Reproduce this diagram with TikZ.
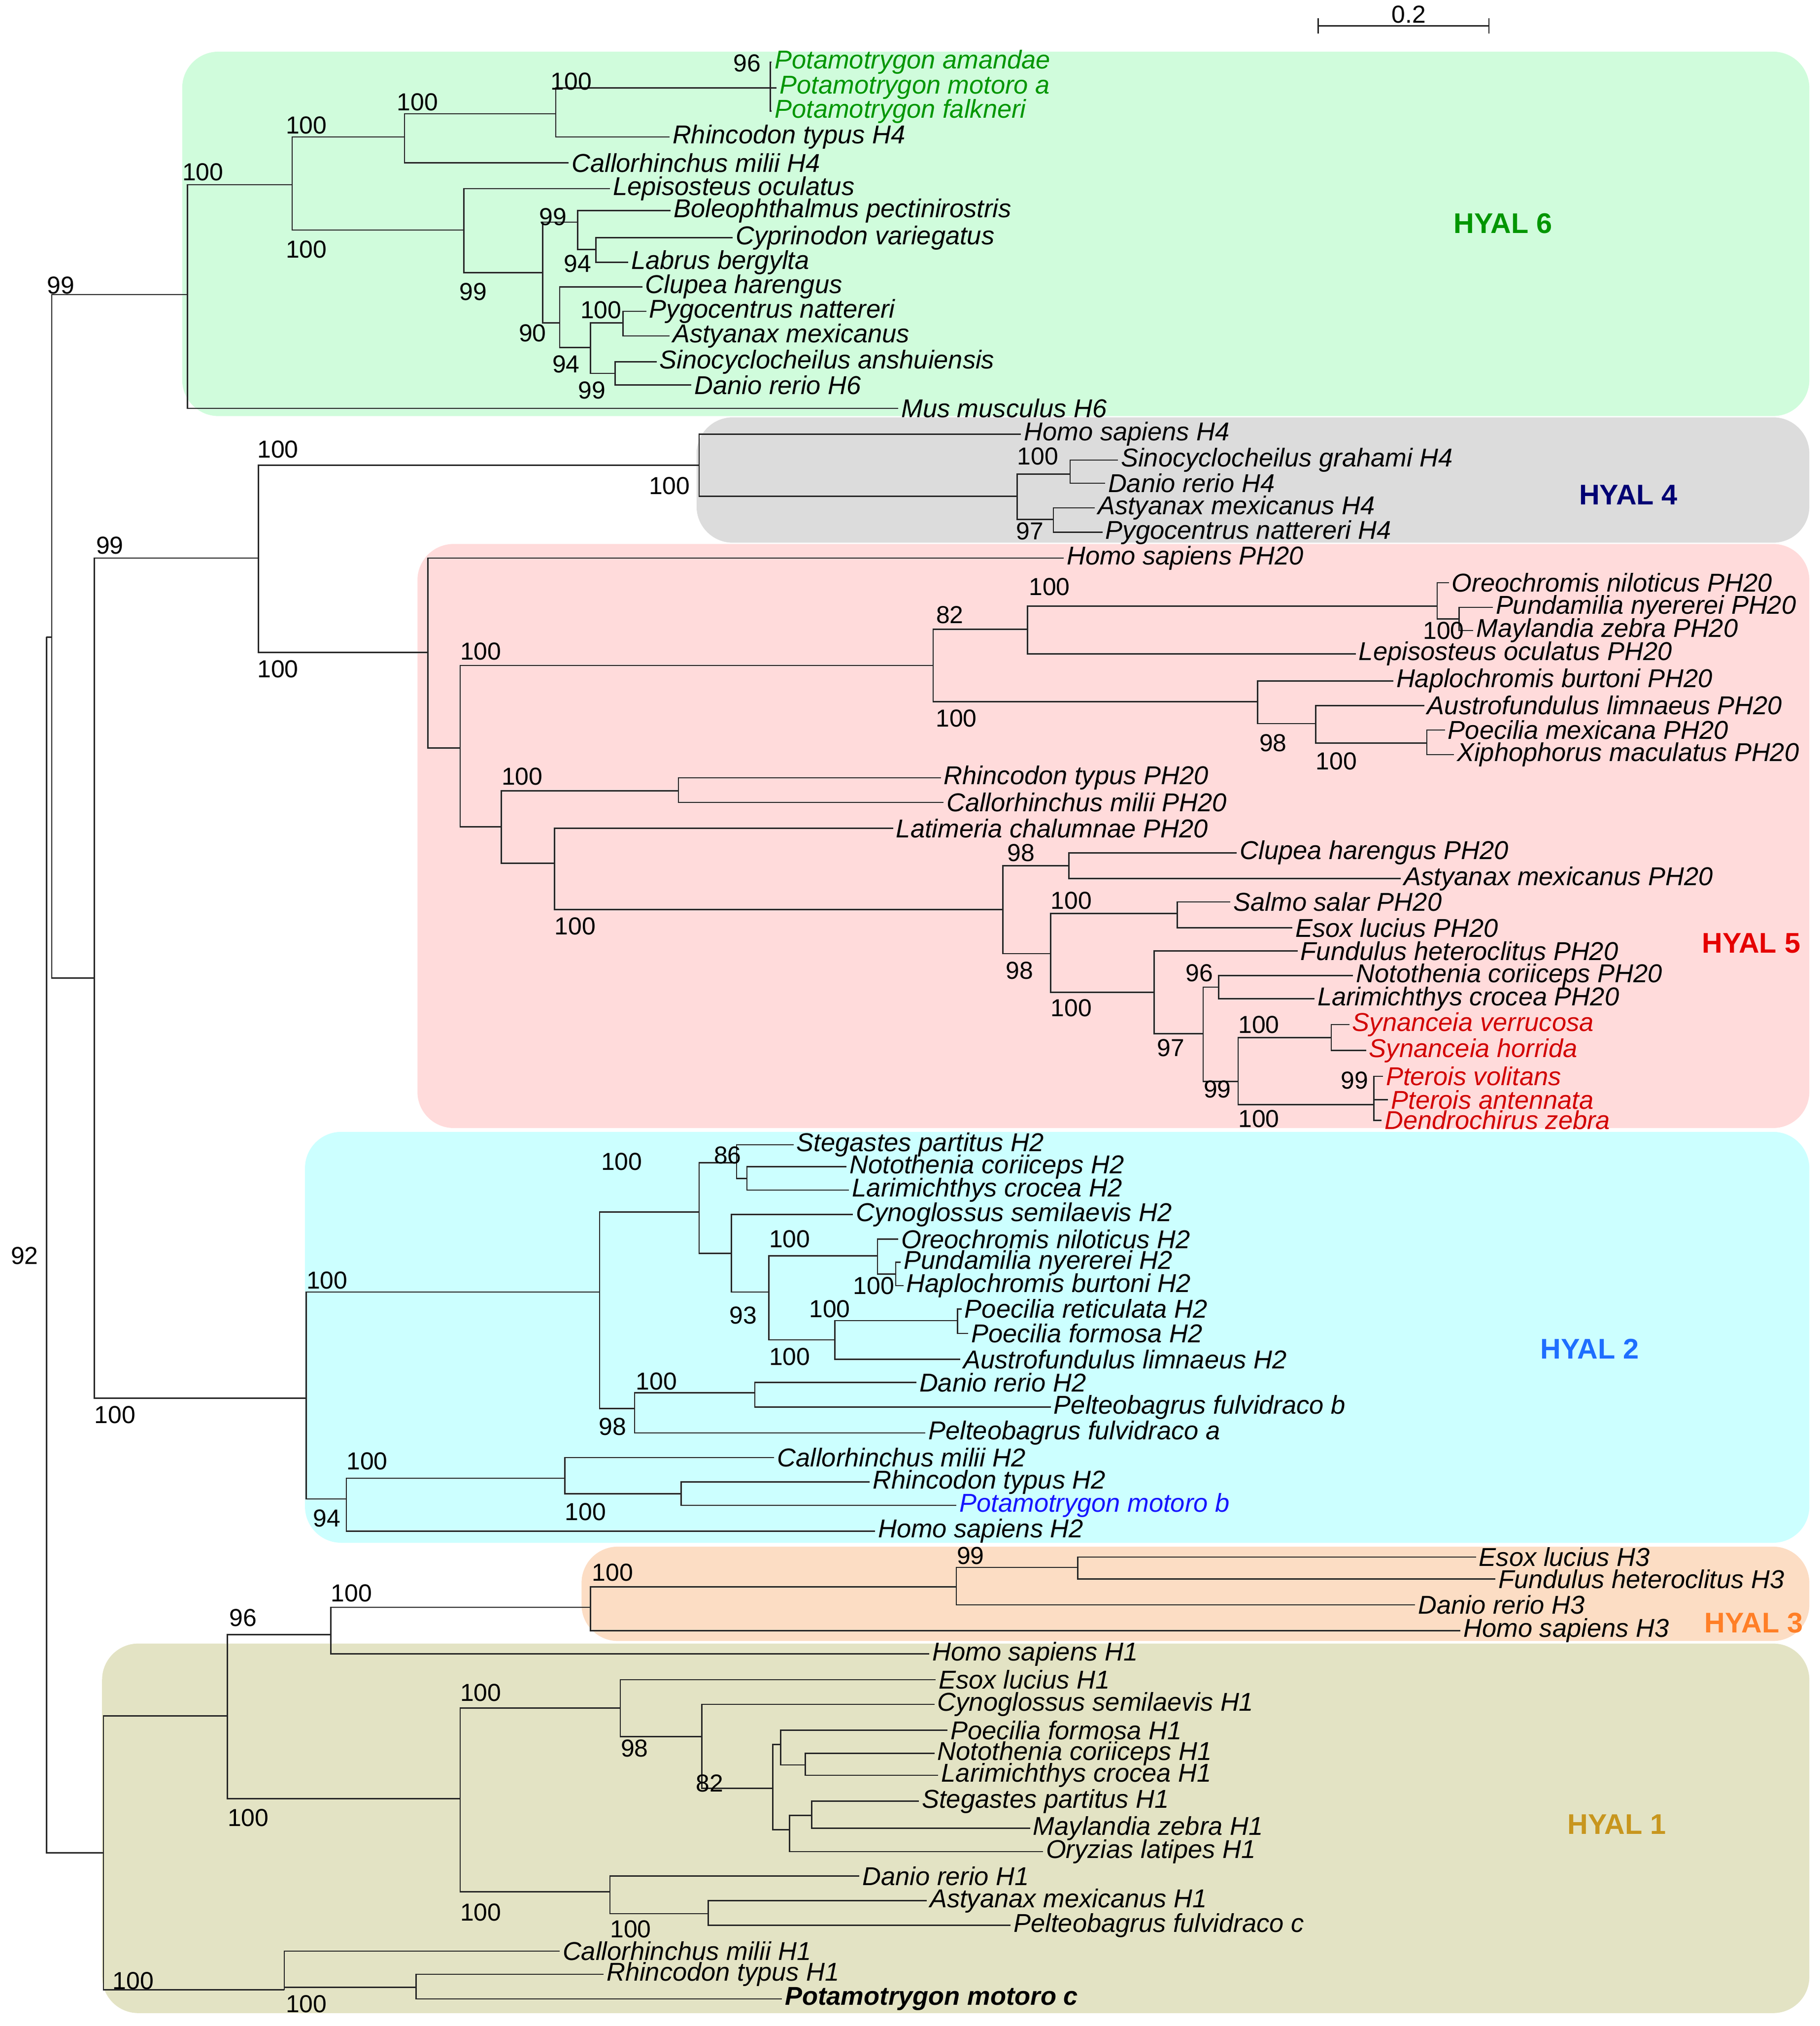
\documentclass[tikz,border=0pt]{standalone}
\usepackage{fontspec}
\setmainfont{Liberation Sans}
\definecolor{g6}{RGB}{208,252,220}
\definecolor{g4}{RGB}{220,220,220}
\definecolor{g5}{RGB}{255,219,219}
\definecolor{g2}{RGB}{204,255,255}
\definecolor{g3}{RGB}{252,221,196}
\definecolor{g1}{RGB}{227,227,196}
\definecolor{tg}{RGB}{0,150,0}
\definecolor{tr}{RGB}{210,0,0}
\definecolor{tb}{RGB}{20,20,255}
\begin{document}
\begin{tikzpicture}[x=0.5pt,y=-0.5pt,
 leaf/.style={anchor=west,inner sep=1pt,font=\fontsize{10}{11}\selectfont\itshape},
 bs/.style={inner sep=0pt,font=\fontsize{9.5}{11}\selectfont},
 clab/.style={font=\fontsize{11}{12}\selectfont\bfseries},
 box/.style={rounded corners=14pt,draw=none},
 br/.style={line width=0.5pt,draw=black!85}]
\newcounter{bsc}
\newcommand\bsl[3]{\stepcounter{bsc}\node[bs] (bs\arabic{bsc}) at (#1,#2) {#3};}
\newcommand\lf[5][black]{\node[leaf,text=#1] (#2) at (#3,#4) {#5};}
\newcommand\cn[3]{\coordinate (#1) at (#2,#3);}
\newcommand\ed[2]{\draw[br] (#1) |- (#2);}
\newcommand\el[2]{\draw[br] (#1) |- (#2.west);}
\useasboundingbox (0,0) rectangle (1408,1568);
% backgrounds
\fill[box,g6] (141,40) rectangle (1400,322);
\fill[box,g4] (539,323) rectangle (1400,420);
\fill[box,g5] (323,421) rectangle (1400,873);
\fill[box,g2] (236,876) rectangle (1400,1194);
\fill[box,g3] (450,1197) rectangle (1400,1270);
\fill[box,g1] (79,1272) rectangle (1400,1558);
\node[clab,text=tg] (l6) at (1163,173) {HYAL 6};
\node[clab,text=blue!45!black] (l4) at (1260,383) {HYAL 4};
\node[clab,text=red!90!black] (l5) at (1355,730) {HYAL 5};
\node[clab,text={rgb,255:red,30;green,110;blue,255}] (l2) at (1230,1044) {HYAL 2};
\node[clab,text={rgb,255:red,255;green,127;blue,39}] (l3) at (1357,1256) {HYAL 3};
\node[clab,text={rgb,255:red,200;green,150;blue,30}] (l1) at (1251,1412) {HYAL 1};
% scale bar
\coordinate (sa) at (1020,20); \coordinate (sb) at (1152,20);
\draw[br] (sa) -- (sb); \draw[br] (1020,14) -- (1020,26); \draw[br] (1152,14) -- (1152,26);
\node[bs] (sl) at (1090,11) {0.2};
% root
\cn{ROOT}{36}{493}\cn{N40}{40}{493}\cn{N73}{73}{757}
\draw[br] (ROOT) |- (N40);
% HYAL6
\cn{N6}{145}{228}\cn{B}{226}{143}\cn{C}{313}{106}\cn{D}{359}{178}\cn{E}{430}{88}\cn{F}{596}{68}
\cn{G}{420}{211}\cn{H}{447}{172}\cn{J}{461}{193}\cn{I}{433}{250}\cn{K}{457}{269}\cn{L}{482}{250}\cn{M}{476}{289}
\draw[br] (N40) -- (40,228) -- (N6); \draw[br] (N40) |- (N73);
\lf{mus}{695}{316}{Mus musculus H6}
\ed{N6}{B}\el{N6}{mus}\ed{B}{C}\ed{B}{D}\ed{C}{E}
\lf{calH4}{440}{126}{Callorhinchus milii H4}\el{C}{calH4}
\lf{rhH4}{518}{106}{Rhincodon typus H4}\ed{E}{F}\el{E}{rhH4}
\lf[tg]{pam}{597}{48}{Potamotrygon amandae}\lf[tg]{pma}{601}{68}{Potamotrygon motoro a}\lf[tg]{pfa}{597}{86}{Potamotrygon falkneri}
\el{F}{pam}\el{F}{pma}\el{F}{pfa}
\lf{lep}{472}{146}{Lepisosteus oculatus}\el{D}{lep}\ed{D}{G}
\ed{G}{H}\ed{G}{I}
\lf{bol}{519}{163}{Boleophthalmus pectinirostris}\el{H}{bol}\ed{H}{J}
\lf{cyp}{567}{184}{Cyprinodon variegatus}\lf{lab}{486}{203}{Labrus bergylta}\el{J}{cyp}\el{J}{lab}
\lf{clu}{497}{222}{Clupea harengus}\el{I}{clu}\ed{I}{K}\ed{K}{L}\ed{K}{M}
\lf{pyg}{500}{241}{Pygocentrus nattereri}\lf{ast}{518}{260}{Astyanax mexicanus}\el{L}{pyg}\el{L}{ast}
\lf{sin}{508}{280}{Sinocyclocheilus anshuiensis}\lf{dan6}{535}{298}{Danio rerio H6}\el{M}{sin}\el{M}{dan6}
\bsl{47}{221}{99}\bsl{157}{133}{100}\bsl{237}{97}{100}\bsl{237}{193}{100}\bsl{323}{79}{100}\bsl{442}{63}{100}\bsl{578}{49}{96}
\bsl{428}{168}{99}\bsl{366}{226}{99}\bsl{447}{204}{94}\bsl{412}{258}{90}\bsl{465}{240}{100}\bsl{438}{282}{94}\bsl{458}{302}{99}
% HYAL4 & 5
\cn{P}{200}{432}\cn{Q}{541}{360}\cn{S}{787}{384}\cn{T}{828}{367}\cn{U}{815}{402}
\ed{N73}{P}\ed{P}{Q}
\lf{hoH4}{790}{336}{Homo sapiens H4}\el{Q}{hoH4}\ed{Q}{S}\ed{S}{T}\ed{S}{U}
\lf{sgH4}{865}{356}{Sinocyclocheilus grahami H4}\lf{drH4}{855}{374}{Danio rerio H4}\el{T}{sgH4}\el{T}{drH4}
\lf{amH4}{847}{393}{Astyanax mexicanus H4}\lf{pnH4}{853}{412}{Pygocentrus nattereri H4}\el{U}{amH4}\el{U}{pnH4}
\bsl{85}{422}{99}\bsl{215}{348}{100}\bsl{215}{518}{100}\bsl{518}{376}{100}\bsl{803}{353}{100}\bsl{797}{411}{97}
\cn{R}{331}{505}\cn{V}{356}{579}\cn{W}{722}{515}\cn{X}{388}{640}\cn{Y}{795}{487}\cn{Z}{973}{543}
\cn{AA}{1112}{469}\cn{AB}{1129}{479}\cn{AC}{1018}{560}\cn{AD}{1104}{575}\cn{AE}{525}{612}\cn{AF}{429}{668}
\cn{AG}{776}{704}\cn{AH}{827}{670}\cn{AI}{813}{738}\cn{AJ}{911}{707}\cn{AK}{893}{768}\cn{AL}{931}{800}
\cn{AM}{943}{764}\cn{AN}{958}{837}\cn{AO}{1030}{803}\cn{AP}{1063}{855}
\ed{P}{R}\lf{hoP}{823}{432}{Homo sapiens PH20}\el{R}{hoP}\ed{R}{V}\ed{V}{W}\ed{V}{X}\ed{W}{Y}\ed{W}{Z}
\ed{Y}{AA}\lf{lepP}{1049}{506}{Lepisosteus oculatus PH20}\el{Y}{lepP}
\lf{oreP}{1121}{451}{Oreochromis niloticus PH20}\el{AA}{oreP}\ed{AA}{AB}
\lf{punP}{1155}{470}{Pundamilia nyererei PH20}\lf{mayP}{1140}{488}{Maylandia zebra PH20}\el{AB}{punP}\el{AB}{mayP}
\lf{hapP}{1078}{527}{Haplochromis burtoni PH20}\el{Z}{hapP}\ed{Z}{AC}
\lf{ausP}{1102}{546}{Austrofundulus limnaeus PH20}\el{AC}{ausP}\ed{AC}{AD}
\lf{pmP}{1118}{565}{Poecilia mexicana PH20}\lf{xiP}{1125}{584}{Xiphophorus maculatus PH20}\el{AD}{pmP}\el{AD}{xiP}
\ed{X}{AE}\ed{X}{AF}
\lf{rhP}{728}{602}{Rhincodon typus PH20}\lf{caP}{730}{621}{Callorhinchus milii PH20}\el{AE}{rhP}\el{AE}{caP}
\lf{laP}{691}{641}{Latimeria chalumnae PH20}\el{AF}{laP}\ed{AF}{AG}\ed{AG}{AH}\ed{AG}{AI}
\lf{clP}{957}{660}{Clupea harengus PH20}\lf{asP}{1084}{680}{Astyanax mexicanus PH20}\el{AH}{clP}\el{AH}{asP}
\ed{AI}{AJ}\ed{AI}{AK}
\lf{saP}{952}{698}{Salmo salar PH20}\lf{esP}{1000}{718}{Esox lucius PH20}\el{AJ}{saP}\el{AJ}{esP}
\lf{fuP}{1004}{736}{Fundulus heteroclitus PH20}\el{AK}{fuP}\ed{AK}{AL}\ed{AL}{AM}\ed{AL}{AN}
\lf{noP}{1047}{755}{Notothenia coriiceps PH20}\lf{lrP}{1017}{773}{Larimichthys crocea PH20}\el{AM}{noP}\el{AM}{lrP}
\ed{AN}{AO}\ed{AN}{AP}
\lf[tr]{sve}{1044}{793}{Synanceia verrucosa}\lf[tr]{sho}{1057}{813}{Synanceia horrida}\el{AO}{sve}\el{AO}{sho}
\lf[tr]{pvo}{1070}{833}{Pterois volitans}\lf[tr]{pan}{1074}{851}{Pterois antennata}\lf[tr]{dze}{1069}{867}{Dendrochirus zebra}
\el{AP}{pvo}\el{AP}{pan}\el{AP}{dze}
\bsl{372}{504}{100}\bsl{735}{476}{82}\bsl{812}{454}{100}\bsl{1117}{488}{100}\bsl{740}{556}{100}\bsl{985}{575}{98}\bsl{1034}{589}{100}
\bsl{404}{601}{100}\bsl{445}{717}{100}\bsl{790}{660}{98}\bsl{789}{751}{98}\bsl{829}{697}{100}\bsl{829}{780}{100}
\bsl{906}{811}{97}\bsl{928}{753}{96}\bsl{942}{843}{99}\bsl{974}{793}{100}\bsl{974}{866}{100}\bsl{1048}{836}{99}
% HYAL2
\cn{BA}{237}{1082}\cn{BB}{464}{1000}\cn{BC}{268}{1160}\cn{BD}{541}{938}\cn{BE}{491}{1090}\cn{BF}{570}{900}\cn{BG}{578}{912}
\cn{BH}{566}{970}\cn{BI}{595}{1000}\cn{BJ}{679}{972}\cn{BK}{693}{986}\cn{BL}{646}{1037}\cn{BM}{741}{1022}\cn{BN}{584}{1078}
\cn{BO}{437}{1144}\cn{BP}{527}{1156}
\draw[br] (N73) |- (BA);\ed{BA}{BB}\ed{BA}{BC}\ed{BB}{BD}\ed{BB}{BE}\ed{BD}{BF}\ed{BD}{BH}\ed{BF}{BG}
\lf{stH2}{614}{886}{Stegastes partitus H2}\el{BF}{stH2}
\lf{noH2}{655}{903}{Notothenia coriiceps H2}\lf{laH2}{657}{921}{Larimichthys crocea H2}\el{BG}{noH2}\el{BG}{laH2}
\lf{cyH2}{660}{940}{Cynoglossus semilaevis H2}\el{BH}{cyH2}\ed{BH}{BI}\ed{BI}{BJ}\ed{BI}{BL}
\lf{orH2}{695}{959}{Oreochromis niloticus H2}\el{BJ}{orH2}\ed{BJ}{BK}
\lf{puH2}{697}{977}{Pundamilia nyererei H2}\lf{haH2}{699}{995}{Haplochromis burtoni H2}\el{BK}{puH2}\el{BK}{haH2}
\ed{BL}{BM}\lf{prH2}{744}{1013}{Poecilia reticulata H2}\lf{pfH2}{749}{1032}{Poecilia formosa H2}\el{BM}{prH2}\el{BM}{pfH2}
\lf{auH2}{743}{1052}{Austrofundulus limnaeus H2}\el{BL}{auH2}
\ed{BE}{BN}\lf{daH2}{709}{1070}{Danio rerio H2}\lf{pbH2}{813}{1089}{Pelteobagrus fulvidraco b}\el{BN}{daH2}\el{BN}{pbH2}
\lf{paH2}{716}{1109}{Pelteobagrus fulvidraco a}\el{BE}{paH2}
\ed{BC}{BO}\lf{caH2}{599}{1128}{Callorhinchus milii H2}\el{BO}{caH2}\ed{BO}{BP}
\lf{rhH2}{673}{1147}{Rhincodon typus H2}\lf[tb]{pmb}{740}{1165}{Potamotrygon motoro b}\el{BP}{rhH2}\el{BP}{pmb}
\lf{hoH2}{677}{1185}{Homo sapiens H2}\el{BC}{hoH2}
\bsl{89}{1095}{100}\bsl{253}{991}{100}\bsl{253}{1175}{94}\bsl{481}{899}{100}\bsl{474}{1104}{98}\bsl{563}{894}{86}\bsl{575}{1018}{93}
\bsl{611}{959}{100}\bsl{676}{995}{100}\bsl{611}{1050}{100}\bsl{642}{1013}{100}\bsl{508}{1069}{100}\bsl{284}{1131}{100}\bsl{453}{1170}{100}
% HYAL1 & 3
\cn{CA}{80}{1434}\cn{CB}{176}{1328}\cn{CC}{220}{1540}\cn{CD}{256}{1265}\cn{CE}{356}{1392}\cn{CF}{457}{1244}\cn{CG}{740}{1228}
\cn{CH}{834}{1213}\cn{CI}{480}{1322}\cn{CJ}{472}{1464}\cn{CK}{543}{1344}\cn{CL}{598}{1384}\cn{CM}{604}{1350}\cn{CN}{623}{1366}
\cn{CO}{611}{1416}\cn{CP}{628}{1405}\cn{CQ}{548}{1481}\cn{CR}{322}{1538}
\draw[br] (ROOT) |- (CA);\ed{CA}{CB}\ed{CA}{CC}\ed{CB}{CD}\ed{CB}{CE}\ed{CD}{CF}
\lf{hoH1}{719}{1280}{Homo sapiens H1}\el{CD}{hoH1}\ed{CF}{CG}
\lf{hoH3}{1130}{1262}{Homo sapiens H3}\el{CF}{hoH3}\ed{CG}{CH}
\lf{daH3}{1095}{1242}{Danio rerio H3}\el{CG}{daH3}
\lf{esH3}{1142}{1205}{Esox lucius H3}\lf{fuH3}{1157}{1222}{Fundulus heteroclitus H3}\el{CH}{esH3}\el{CH}{fuH3}
\ed{CE}{CI}\ed{CE}{CJ}
\lf{esH1}{724}{1300}{Esox lucius H1}\el{CI}{esH1}\ed{CI}{CK}
\lf{cyH1}{723}{1319}{Cynoglossus semilaevis H1}\el{CK}{cyH1}\ed{CK}{CL}\ed{CL}{CM}\ed{CL}{CO}
\lf{pfH1}{733}{1339}{Poecilia formosa H1}\el{CM}{pfH1}\ed{CM}{CN}
\lf{noH1}{723}{1357}{Notothenia coriiceps H1}\lf{laH1}{726}{1374}{Larimichthys crocea H1}\el{CN}{noH1}\el{CN}{laH1}
\ed{CO}{CP}\lf{stH1}{711}{1394}{Stegastes partitus H1}\lf{maH1}{797}{1415}{Maylandia zebra H1}\el{CP}{stH1}\el{CP}{maH1}
\lf{orH1}{807}{1433}{Oryzias latipes H1}\el{CO}{orH1}
\lf{daH1}{665}{1452}{Danio rerio H1}\el{CJ}{daH1}\ed{CJ}{CQ}
\lf{asH1}{717}{1471}{Astyanax mexicanus H1}\lf{pcH1}{782}{1490}{Pelteobagrus fulvidraco c}\el{CQ}{asH1}\el{CQ}{pcH1}
\lf{caH1}{433}{1510}{Callorhinchus milii H1}\el{CC}{caH1}\ed{CC}{CR}
\lf{rhH1}{467}{1528}{Rhincodon typus H1}\node[leaf,font=\fontsize{10}{11}\selectfont\itshape\bfseries] (pmc) at (605,1547) {Potamotrygon motoro c};
\el{CR}{rhH1}\el{CR}{pmc}
\bsl{19}{972}{92}\bsl{103}{1533}{100}\bsl{188}{1252}{96}\bsl{272}{1233}{100}\bsl{192}{1407}{100}\bsl{474}{1217}{100}\bsl{751}{1204}{99}
\bsl{372}{1310}{100}\bsl{372}{1480}{100}\bsl{491}{1353}{98}\bsl{549}{1380}{82}\bsl{488}{1493}{100}\bsl{237}{1551}{100}
\end{tikzpicture}
\end{document}
